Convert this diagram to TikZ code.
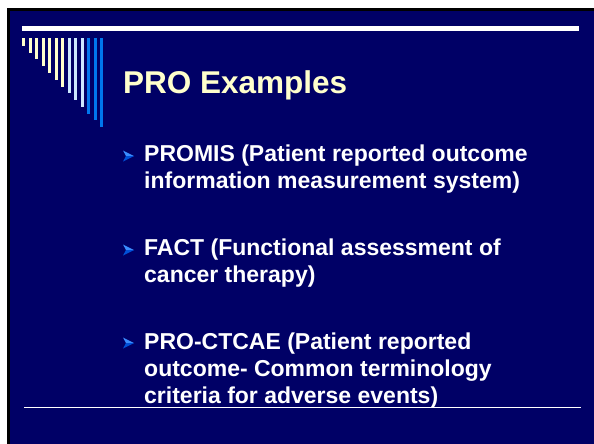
\documentclass[tikz,border=0pt]{standalone}
\usepackage{fontspec}
\setmainfont{Liberation Sans}
\usepackage{tikz}
\usetikzlibrary{positioning}
\definecolor{slidenavy}{HTML}{000066}
\definecolor{paleyel}{HTML}{FFFFCC}
\definecolor{lblue}{HTML}{CCE8FF}
\definecolor{mblue}{HTML}{0077EE}
\definecolor{bulup}{HTML}{3A8CFF}
\definecolor{buldn}{HTML}{0050D8}
% base of a multi-line item = baseline of its last line
\tikzset{item/.style = {anchor=base west, inner sep=0, align=left, text=white,
                        font=\fontsize{23}{26.8}\selectfont\bfseries}}
\tikzset{headline/.style = {anchor=base west, inner sep=0, text=paleyel,
                            font=\fontsize{31.5}{36}\selectfont\bfseries}}

\begin{document}
\begin{tikzpicture}[x=1pt, y=-1pt]
    \useasboundingbox (0, 0) rectangle (594, 444);
    \fill [black] (7, 8) rectangle (594, 444);
    \fill [slidenavy] (10, 11) rectangle (594, 444);

    \fill [white] (22, 26) rectangle (579, 31);
    \draw [white, line width=1pt] (24, 407) -- (581, 407);

    \foreach \i/\c in {0/paleyel,1/paleyel,2/paleyel,3/paleyel,4/paleyel,5/paleyel,6/paleyel,
                       7/lblue,8/lblue,9/lblue,10/mblue,11/mblue,12/mblue} {
      \fill [\c] ({22+6.5*\i}, 38) rectangle ({25+6.5*\i}, {46+6.75*\i});
    }

    \node (title) [headline] at (123, 93) {PRO Examples};

    \node (promis) [item] at (144, 188) {PROMIS (Patient reported outcome\\information measurement system)};
    \node (fact) [item] at (144, 282) {FACT (Functional assessment of\\cancer therapy)};
    \node (ctcae) [item] at (144, 403) {PRO-CTCAE (Patient reported\\outcome- Common terminology\\criteria for adverse events)};

    \foreach \b in {162,256,349} {
      \begin{scope}[shift={(123, \b)}]
        \fill [bulup] (0, -11.5) -- (11, -6) -- (3, -6) -- cycle;
        \fill [buldn] (3, -6) -- (11, -6) -- (0, -0.5) -- cycle;
      \end{scope}
    }
\end{tikzpicture}
\end{document}
